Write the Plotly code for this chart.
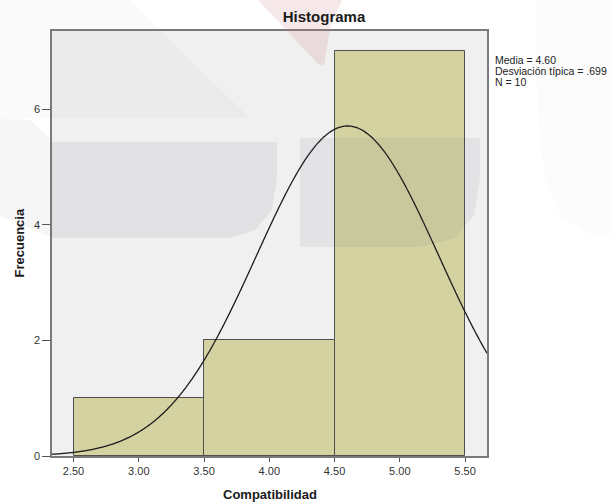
import numpy as np
import plotly.graph_objects as go

# Histogram of "Compatibilidad" (bins of width 1.0)
bin_left = [2.5, 3.5, 4.5]
bin_width = 1.0
counts = [1, 2, 7]

# Summary statistics shown next to the chart
media = 4.60
desv = 0.699
n = 10

x_ticks = [2.50, 3.00, 3.50, 4.00, 4.50, 5.00, 5.50]
y_ticks = [0, 2, 4, 6]

x_range = [2.335, 5.668]
y_range = [0, 7.35]

# layout geometry (pixels)
W, H = 612, 503
L, R, T, B = 52, 125, 31, 47
pw, ph = W - L - R, H - T - B

centers = [b + bin_width / 2 for b in bin_left]

# normal curve scaled to counts
xc = np.linspace(x_range[0], x_range[1], 400)
yc = n * bin_width / (desv * np.sqrt(2 * np.pi)) * np.exp(-0.5 * ((xc - media) / desv) ** 2)

fig = go.Figure()
fig.add_trace(go.Bar(
    x=centers, y=counts, width=[bin_width] * len(counts),
    marker=dict(color="#D4D2A0", line=dict(color="#4f4f4f", width=1)),
    hoverinfo="skip",
))
fig.add_trace(go.Scatter(
    x=xc, y=yc, mode="lines",
    line=dict(color="#1c1c1c", width=1.3, shape="spline"),
    hoverinfo="skip",
))


def px(x):
    return (x - L) / pw


def py(y):
    return (H - B - y) / ph


def path(points, close=True):
    s = "M " + " L ".join(f"{px(a):.4f},{py(b):.4f}" for a, b in points)
    return s + (" Z" if close else "")


# faint background watermark shapes
def wm(points, color):
    return dict(type="path", xref="paper", yref="paper", layer="above",
                line=dict(width=0), fillcolor=color, path=path(points))


shapes = [
    wm([(0, 0), (130, 0), (250, 118), (0, 118)], "rgba(100,100,125,0.03)"),
    wm([(535, 0), (612, 0), (612, 235), (585, 233), (560, 215), (545, 180), (538, 120)],
       "rgba(100,100,130,0.02)"),
    wm([(258, 0), (342, 0), (330, 28), (324, 66), (318, 64)], "rgba(200,110,120,0.17)"),
    wm([(52, 142), (277, 142), (277, 178), (272, 210), (255, 230), (230, 238), (52, 238)],
       "rgba(100,100,120,0.10)"),
    wm([(0, 118), (30, 120), (52, 140), (52, 238), (0, 216)], "rgba(100,100,120,0.06)"),
    wm([(300, 138), (480, 138), (480, 178), (474, 215), (455, 238), (420, 247), (300, 247)],
       "rgba(100,100,120,0.09)"),
]
fig.update_layout(shapes=shapes)

txt_font = dict(family="Liberation Sans, Arial", size=10.5, color="#222222")
stats = [f"Media = {media:.2f}", f"Desviación típica = {str(f'{desv:.3f}')[1:]}", f"N = {n}"]
for i, s in enumerate(stats):
    fig.add_annotation(
        text=s, xref="paper", yref="paper",
        x=px(493), y=py(60 + 11 * i), xanchor="left", yanchor="middle",
        showarrow=False, font=txt_font,
    )

# axis titles
title_font = dict(family="Liberation Sans, Arial", size=13, color="#1a1a1a")
fig.add_annotation(text="<b>Compatibilidad</b>", xref="paper", yref="paper",
                   x=px(270), y=py(494), xanchor="center", yanchor="middle",
                   showarrow=False, font=title_font)
fig.add_annotation(text="<b>Frecuencia</b>", xref="paper", yref="paper",
                   x=px(19.5), y=py(243), xanchor="center", yanchor="middle",
                   textangle=-90, showarrow=False, font=title_font)

fig.update_layout(
    width=W, height=H,
    margin=dict(l=L, r=R, t=T, b=B, pad=0, autoexpand=False),
    paper_bgcolor="white",
    plot_bgcolor="#F0F0F0",
    showlegend=False,
    bargap=0,
    font=dict(family="Liberation Sans, Arial", color="#333333"),
    title=dict(text="<b>Histograma</b>", x=324 / W, xanchor="center", y=1 - 17 / H, yanchor="middle",
               font=dict(size=15, color="#1a1a1a")),
    xaxis=dict(
        range=x_range, tickvals=x_ticks, ticktext=[f"{v:.2f}" for v in x_ticks],
        ticks="outside", ticklen=4, tickcolor="#555555", tickfont=dict(size=11, color="#333333"),
        showgrid=False, zeroline=False, showline=True, mirror=True, automargin=False,
        linecolor="#7a7a7a", linewidth=1.5,
    ),
    yaxis=dict(
        range=y_range, tickvals=y_ticks,
        ticks="outside", ticklen=8, tickcolor="#555555", tickfont=dict(size=11, color="#333333"),
        showgrid=False, zeroline=False, showline=True, mirror=True, automargin=False,
        linecolor="#7a7a7a", linewidth=1.5,
    ),
)

fig.write_html("out.html")
